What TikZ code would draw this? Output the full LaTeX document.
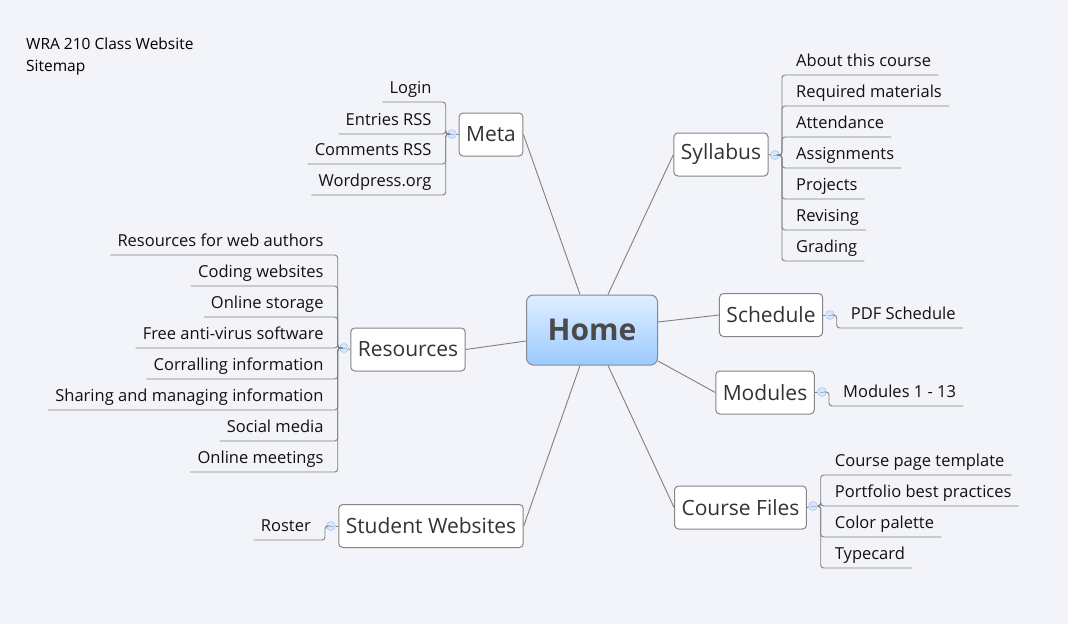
\documentclass[tikz,border=0pt]{standalone}
\usepackage{fontspec}
\setmainfont{Open Sans}
\usetikzlibrary{calc}

\definecolor{bgcol}{HTML}{F3F4F9}
\definecolor{linegray}{HTML}{808080}
\definecolor{topicedge}{HTML}{858585}
\definecolor{topictext}{HTML}{333333}
\definecolor{leaftext}{HTML}{111111}
\definecolor{homeedge}{HTML}{7F8A96}
\definecolor{hometext}{HTML}{4A4A4A}
\definecolor{hometop}{HTML}{E0EFFF}
\definecolor{homebot}{HTML}{9CCAFF}
\definecolor{markedge}{HTML}{9DBBEA}
\definecolor{markfill}{HTML}{D8E6FB}

\begin{document}
\begin{tikzpicture}[x=1pt, y=-1pt,
  topic/.style={draw=topicedge, line width=1pt, fill=white, rounded corners=4pt, inner xsep=7pt,
    minimum height=43pt, text=topictext, font=\fontsize{21}{24}\selectfont},
  hometopic/.style={draw=homeedge, line width=1pt, top color=hometop, bottom color=homebot,
    rounded corners=7pt, minimum width=131pt, minimum height=70pt, text=hometext,
    font=\fontsize{30}{34}\selectfont\bfseries},
  leaf/.style={inner xsep=7pt, inner ysep=8pt, text depth=0pt, text=leaftext,
    font=\fontsize{16.5}{19}\selectfont},
  link/.style={draw=linegray, line width=0.9pt},
  branch/.style={draw=linegray, line width=0.9pt, rounded corners=3pt},
  collapse/.style={circle, draw=markedge, fill=markfill, minimum size=9pt, inner sep=0pt,
    path picture={\draw[markedge, line width=0.9pt] ([xshift=-2.5pt]path picture bounding box.center)
      -- ([xshift=2.5pt]path picture bounding box.center);}}]
\useasboundingbox[fill=bgcol] (0,0) rectangle (1068,624);

% title
\node[anchor=north west, inner sep=0pt, align=left, text=black,
  font=\fontsize{15.5}{22}\selectfont] (title) at (26,37.5) {WRA 210 Class Website\\Sitemap};

% central topic and main topics
\node[hometopic] (home) at (592,330) {Home};
\node[topic] (meta) at (491,134.5) {Meta};
\node[topic] (syl) at (721,154.5) {Syllabus};
\node[topic] (sched) at (771,315) {Schedule};
\node[topic] (mod) at (765,392.5) {Modules};
\node[topic] (cf) at (740.5,507.5) {Course Files};
\node[topic] (sw) at (431,526) {Student Websites};
\node[topic] (res) at (408,349.5) {Resources};

\draw[link] (meta.east) -- ([xshift=-12pt]home.north);
\draw[link] (syl.west) -- ([xshift=16pt]home.north);
\draw[link] ([yshift=8pt]home.east) -- (sched.west);
\draw[link] ([yshift=-31pt]home.east) -- (mod.west);
\draw[link] ([xshift=16pt]home.south) -- (cf.west);
\draw[link] ([xshift=-12pt]home.south) -- (sw.east);
\draw[link] ([yshift=-11pt]home.west) -- (res.east);

% collapse markers
\node[collapse] (metac) at (452,134) {};
\node[collapse] (sylc) at (775,155) {};
\node[collapse] (schedc) at (830,315) {};
\node[collapse] (modc) at (822,392) {};
\node[collapse] (cfc) at (813,506) {};
\node[collapse] (swc) at (331,526) {};
\node[collapse] (resc) at (344,348) {};
\draw[link] (meta.west) -- (metac);
\draw[link] (syl.east) -- (sylc);
\draw[link] (sched.east) -- (schedc);
\draw[link] (mod.east) -- (modc);
\draw[link] (cf.east) -- (cfc);
\draw[link] (sw.west) -- (swc);
\draw[link] (res.west) -- (resc);

% right hand subtopics
\foreach \txt/\y [count=\i] in {About this course/75, Required materials/106, Attendance/137,
    Assignments/168, Projects/199, Revising/230, Grading/261} {
  \node[leaf, anchor=south west] (syl\i) at (789,\y) {\txt};
  \draw[branch] (sylc.east) -| ([xshift=-7pt]syl\i.south west) -- (syl\i.south east);
}
\node[leaf, anchor=south west] (sched1) at (843.7,328) {PDF Schedule};
\draw[branch] (schedc.east) -| ([xshift=-7pt]sched1.south west) -- (sched1.south east);
\node[leaf, anchor=south west] (mod1) at (836,406) {Modules 1 - 13};
\draw[branch] (modc.east) -| ([xshift=-7pt]mod1.south west) -- (mod1.south east);
\foreach \txt/\y [count=\i] in {Course page template/475, Portfolio best practices/506,
    Color palette/537, Typecard/568} {
  \node[leaf, anchor=south west] (cf\i) at (827.7,\y) {\txt};
  \draw[branch] (cfc.east) -| ([xshift=-7pt]cf\i.south west) -- (cf\i.south east);
}

% left hand subtopics
\foreach \txt/\y [count=\i] in {Login/102, Entries RSS/134, Comments RSS/164, Wordpress.org/195} {
  \node[leaf, anchor=south east] (meta\i) at (438.7,\y) {\txt};
  \draw[branch] (metac.west) -| ([xshift=7pt]meta\i.south east) -- (meta\i.south west);
}
\foreach \txt/\y [count=\i] in {Resources for web authors/255, Coding websites/286,
    Online storage/317, Free anti-virus software/348, Corralling information/379,
    Sharing and managing information/410, Social media/441, Online meetings/472} {
  \node[leaf, anchor=south east] (res\i) at (330.7,\y) {\txt};
  \draw[branch] (resc.west) -| ([xshift=7pt]res\i.south east) -- (res\i.south west);
}
\node[leaf, anchor=south east] (sw1) at (318,540) {Roster};
\draw[branch] (swc.west) -| ([xshift=7pt]sw1.south east) -- (sw1.south west);
\end{tikzpicture}
\end{document}
